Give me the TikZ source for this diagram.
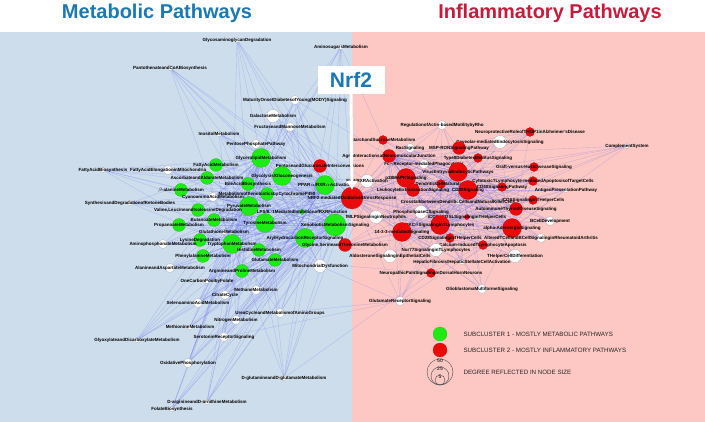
\documentclass[tikz,border=0pt]{standalone}
\usepackage{fontspec}
\setmainfont{Liberation Sans}
\usetikzlibrary{backgrounds,arrows.meta}
\definecolor{metablue}{RGB}{205,221,236}
\definecolor{inflpink}{RGB}{253,200,195}
\definecolor{titleblue}{RGB}{28,120,178}
\definecolor{titlered}{RGB}{196,28,60}
\definecolor{ngreen}{RGB}{30,235,20}
\definecolor{nred}{RGB}{235,10,10}
\definecolor{edgeblue}{RGB}{110,120,240}

\begin{document}
\begin{tikzpicture}[x=1pt,y=-1pt,
    pnode/.style={circle,draw=gray!70,line width=0.2pt,inner sep=0pt},
    gn/.style={pnode,fill=ngreen,draw=ngreen!80!black},
    rn/.style={pnode,fill=nred,draw=nred!80!black},
    wn/.style={pnode,fill=white},
    sa/.style={minimum size=5pt},
    sb/.style={minimum size=9pt},
    sc/.style={minimum size=13pt},
    sd/.style={minimum size=19pt},
    lbl/.style={font=\fontsize{4.5}{4.5}\selectfont\bfseries,inner sep=0pt,text=black},
    edge/.style={draw=edgeblue,opacity=0.35,line width=0.35pt},
    legtext/.style={font=\fontsize{6.2}{7}\selectfont,anchor=west,text=black!85}]
\useasboundingbox (0,0) rectangle (705,422);

% titles
\node[font=\fontsize{20}{22}\selectfont\bfseries,text=titleblue] (ttlmeta) at (157,13) {Metabolic Pathways};
\node[font=\fontsize{20}{22}\selectfont\bfseries,text=titlered] (ttlinfl) at (550,13) {Inflammatory Pathways};

% metabolic side
\node[wn,sa,label={[lbl]center:GlycosaminoglycanDegradation}] (gagd) at (237,40) {};
\node[wn,sa,label={[lbl]center:AminosugarsMetabolism}] (amsu) at (341,47) {};
\node[wn,sa,label={[lbl]center:PantothenateandCoABiosynthesis}] (pant) at (170,68) {};
\node[wn,sb,label={[lbl]center:MaturityOnsetDiabetesofYoung(MODY)Signaling}] (mody) at (295,100) {};
\node[wn,sc,label={[lbl]center:GalactoseMetabolism}] (gala) at (273,116) {};
\node[wn,sb,label={[lbl]center:FructoseandMannoseMetabolism}] (fruc) at (290,127) {};
\node[wn,sa,label={[lbl]center:InositolMetabolism}] (inos) at (219,134) {};
\node[wn,sb,label={[lbl]center:PentosePhosphatePathway}] (ppp) at (256,144) {};
\node[gn,sd,label={[lbl]center:GlycerolipidMetabolism}] (glyc) at (261,158) {};
\node[gn,sc,label={[lbl]center:FattyAcidMetabolism}] (fam) at (216,165) {};
\node[rn,sc,label={[lbl]center:PentoseandGlucuronateInterconversions}] (pgi) at (320,166) {};
\node[wn,sa,label={[lbl]center:FattyAcidBiosynthesis}] (fab) at (103,170) {};
\node[wn,sb,label={[lbl]center:FattyAcidElongationinMitochondria}] (fae) at (168,170) {};
\node[gn,sc,label={[lbl]center:AscorbateandAldarateMetabolism}] (asc) at (207,178) {};
\node[gn,sd,label={[lbl]center:Glycolysis/Gluconeogenesis}] (glgn) at (282,176) {};
\node[gn,sd,label={[lbl]center:PPAR$\alpha$/RXR$\alpha$Activation}] (ppar) at (325,185) {};
\node[gn,sc,label={[lbl]center:BileAcidBiosynthesis}] (bile) at (248,184) {};
\node[gn,sc,label={[lbl]center:$\beta$-alanineMetabolism}] (bala) at (181,190) {};
\node[gn,sc,label={[lbl]center:MetabolismofXenobioticsbyCytochromeP450}] (mxc) at (267,194) {};
\node[wn,sb,label={[lbl]center:CyanoaminoAcidMetabolism}] (cyan) at (213,197) {};
\node[wn,sa,label={[lbl]center:SynthesisandDegradationofKetoneBodies}] (keto) at (130,203) {};
\node[gn,sd,label={[lbl]center:PyruvateMetabolism}] (pyr) at (249,206) {};
\node[gn,sc,label={[lbl]center:Valine,LeucineandIsoleucineDegradation}] (vli) at (198,210) {};
\node[gn,sa,label={[lbl]center:LPS/IL-1MediatedInhibitionofRXRFunction}] (lps) at (302,212) {};
\node[gn,sc,label={[lbl]center:ButanoateMetabolism}] (buta) at (214,220) {};
\node[gn,sc,label={[lbl]center:PropanoateMetabolism}] (prop) at (179,225) {};
\node[gn,sd,label={[lbl]center:TyrosineMetabolism}] (tyr) at (265,223) {};
\node[gn,sd,minimum size=22pt,label={[lbl]center:XenobioticMetabolismSignaling}] (xeno) at (335,225) {};
\node[wn,sa,label={[lbl]center:GlutathioneMetabolism}] (glut) at (224,232) {};
\node[gn,sc,label={[lbl]center:LysineDegradation}] (lys) at (200,240) {};
\node[gn,sd,label={[lbl]center:TryptophanMetabolism}] (tryp) at (232,244) {};
\node[gn,sd,label={[lbl]center:ArylHydrocarbonReceptorSignaling}] (ahr) at (305,238) {};
\node[wn,sb,label={[lbl]center:AminophosphonateMetabolism}] (amph) at (163,244) {};
\node[gn,sc,label={[lbl]center:HistidineMetabolism}] (his) at (259,250) {};
\node[gn,sc,label={[lbl]center:PhenylalanineMetabolism}] (phe) at (203,256) {};
\node[gn,sc,label={[lbl]center:GlutamateMetabolism}] (glm) at (275,260) {};
\node[wn,sb,label={[lbl]center:AlanineandAspartateMetabolism}] (ala) at (170,268) {};
\node[gn,sc,label={[lbl]center:ArginineandProlineMetabolism}] (arg) at (242,271) {};
\node[wn,sc,label={[lbl]center:MitochondrialDysfunction}] (mito) at (320,266) {};
\node[wn,sa,label={[lbl]center:OneCarbonPoolbyFolate}] (ocp) at (207,281) {};
\node[wn,sb,label={[lbl]center:MethaneMetabolism}] (meth) at (256,290) {};
\node[wn,sb,label={[lbl]center:CitrateCycle}] (tca) at (225,295) {};
\node[wn,sb,label={[lbl]center:SelenoaminoAcidMetabolism}] (sel) at (198,303) {};
\node[wn,sb,label={[lbl]center:UreaCycleandMetabolismofAminoGroups}] (urea) at (280,313) {};
\node[wn,sb,label={[lbl]center:NitrogenMetabolism}] (nitr) at (236,320) {};
\node[wn,sa,label={[lbl]center:MethionineMetabolism}] (met) at (190,327) {};
\node[wn,sb,label={[lbl]center:SerotoninReceptorSignaling}] (sero) at (224,337) {};
\node[wn,sa,label={[lbl]center:GlyoxylateandDicarboxylateMetabolism}] (glyo) at (137,340) {};
\node[wn,sb,label={[lbl]center:OxidativePhosphorylation}] (oxp) at (188,363) {};
\node[wn,sa,label={[lbl]center:D-glutamineandD-glutamateMetabolism}] (dglu) at (284,378) {};
\node[wn,sa,label={[lbl]center:D-arginineandD-ornithineMetabolism}] (darg) at (207,402) {};
\node[wn,sa,label={[lbl]center:FolateBiosynthesis}] (fol) at (172,409) {};

% inflammatory side
\node[wn,sb,label={[lbl]center:RegulationofActin-basedMotilitybyRho}] (rho) at (442,125) {};
\node[rn,sb,label={[lbl]center:NeuroprotectiveRoleofTHOP1inAlzheimer'sDisease}] (thop) at (530,132) {};
\node[rn,sb,label={[lbl]center:StarchandSucroseMetabolism}] (star) at (383,140) {};
\node[wn,sb,label={[lbl]center:RacSignaling}] (rac) at (410,148) {};
\node[wn,sc,label={[lbl]center:Caveolar-mediatedEndocytosisSignaling}] (cav) at (500,142) {};
\node[rn,sc,label={[lbl]center:MSP-RONSignalingPathway}] (msp) at (459,148) {};
\node[wn,sa,label={[lbl]center:ComplementSystem}] (comp) at (627,146) {};
\node[rn,sc,label={[lbl]center:AgrinInteractionsatNeuromuscularJunction}] (agr) at (389,156) {};
\node[rn,sb,label={[lbl]center:TypeIIDiabetesMellitusSignaling}] (t2d) at (478,158) {};
\node[wn,sb,label={[lbl]center:Fc$\gamma$Receptor-mediatedPhagocytosis}] (fcg) at (424,164) {};
\node[rn,sb,label={[lbl]center:Graft-versus-HostDiseaseSignaling}] (gvh) at (534,167) {};
\node[rn,sd,label={[lbl]center:VirusEntryviaEndocyticPathways}] (vir) at (458,172) {};
\node[wn,sc,label={[lbl]center:FXR/RXRActivation}] (fxr) at (367,181) {};
\node[rn,sd,label={[lbl]center:p38MAPKSignaling}] (p38) at (406,178) {};
\node[rn,sb,label={[lbl]center:DendriticCellMaturation}] (dcm) at (441,184) {};
\node[rn,sb,label={[lbl]center:CytotoxicTLymphocyte-mediatedApoptosisofTargetCells}] (ctl) at (533,181) {};
\node[rn,sc,label={[lbl]center:LeukocyteExtravasationSignaling}] (leuk) at (413,190) {};
\node[rn,sb,label={[lbl]center:CD40SignalingPathway}] (cd40) at (502,187) {};
\node[rn,sd,label={[lbl]center:CD28Signaling}] (cd28) at (468,190) {};
\node[wn,sa,label={[lbl]center:AntigenPresentationPathway}] (agp) at (566,190) {};
\node[rn,sd,minimum size=22pt,label={[lbl]center:NRF2-mediatedOxidativeStressResponse}] (nrf) at (352,198) {};
\node[wn,sa,label={[lbl]center:CrosstalkbetweenDendriticCellsandNaturalKillerCells}] (ddnk) at (458,202) {};
\node[rn,sb,label={[lbl]center:iCOSSignalinginTHelperCells}] (icos2) at (533,200) {};
\node[rn,sc,label={[lbl]center:AutoimmuneThyroidDiseaseSignaling}] (auto) at (516,209) {};
\node[wn,sc,label={[lbl]center:PhospholipaseCSignaling}] (plc) at (421,212) {};
\node[rn,sa,label={[lbl]center:iCOS-iCOSLSignalinginTHelperCells}] (icos) at (467,217) {};
\node[wn,sb,label={[lbl]center:BCellDevelopment}] (bcd) at (550,221) {};
\node[wn,sc,label={[lbl]center:fMLPSignalinginNeutrophils}] (fmlp) at (376,217) {};
\node[rn,sd,label={[lbl]center:PKC$\theta$SignalinginTLymphocytes}] (pkc) at (440,225) {};
\node[rn,sd,label={[lbl]center:alpha-AdrenergicSignaling}] (alad) at (512,228) {};
\node[wn,sb,label={[lbl]center:AlteredTCellandBCellSignalinginRheumatoidArthritis}] (ra) at (541,238) {};
\node[rn,sd,label={[lbl]center:14-3-3-mediatedSignaling}] (y1433) at (402,232) {};
\node[rn,sb,label={[lbl]center:CD28SignalinginTHelperCells}] (cd28t) at (450,238) {};
\node[rn,sb,label={[lbl]center:Calcium-inducedTLymphocyteApoptosis}] (calc) at (483,245) {};
\node[rn,sc,label={[lbl]center:Glycine,SerineandThreonineMetabolism}] (gst) at (345,245) {};
\node[wn,sc,label={[lbl]center:Nur77SignalinginTLymphocytes}] (nur) at (436,250) {};
\node[wn,sc,label={[lbl]center:AldosteroneSignalinginEpithelialCells}] (ald) at (390,256) {};
\node[wn,sc,label={[lbl]center:THelperCellDifferentiation}] (thd) at (515,256) {};
\node[wn,sa,label={[lbl]center:HepaticFibrosis/HepaticStellateCellActivation}] (hep) at (462,262) {};
\node[rn,sb,label={[lbl]center:NeuropathicPainSignalingInDorsalHornNeurons}] (neur) at (431,273) {};
\node[wn,sb,label={[lbl]center:GlioblastomaMultiformeSignaling}] (glio) at (482,289) {};
\node[wn,sb,label={[lbl]center:GlutamateReceptorSignaling}] (glur) at (400,301) {};

% Nrf2 callout
\node[fill=white,minimum width=67pt,minimum height=28pt,font=\fontsize{21}{22}\selectfont\bfseries,text=titleblue] (nrftag) at (351,80) {Nrf2};
\coordinate (nrfhead) at (352,190);
\draw[white,line width=3pt,-{Latex[length=9pt,width=13pt]}] (nrftag.south) -- (nrfhead);

% legend
\node[gn,minimum size=14pt] (lg1) at (440,334) {};
\node[legtext] (lt1) at (460,334) {SUBCLUSTER 1 - MOSTLY METABOLIC PATHWAYS};
\node[rn,minimum size=14pt] (lg2) at (440,350) {};
\node[legtext] (lt2) at (460,350) {SUBCLUSTER 2 - MOSTLY INFLAMMATORY PATHWAYS};
\node[circle,draw=black!70,line width=0.4pt,minimum size=26pt,inner sep=0pt] (lg50) at (440,372) {};
\node[circle,draw=black!70,line width=0.4pt,minimum size=18pt,inner sep=0pt,anchor=south] (lg25) at (lg50.south) {};
\node[circle,draw=black!70,line width=0.4pt,minimum size=10pt,inner sep=0pt,anchor=south] (lg5) at (lg50.south) {};
\node[font=\fontsize{5}{5}\selectfont,inner sep=0pt,below=0.5pt] at (lg50.north) {50};
\node[font=\fontsize{5}{5}\selectfont,inner sep=0pt,below=0.5pt] at (lg25.north) {25};
\node[font=\fontsize{5}{5}\selectfont,inner sep=0pt,below=0.5pt] at (lg5.north) {5};
\node[legtext] (lt3) at (460,372) {DEGREE REFLECTED IN NODE SIZE};

\begin{pgfonlayer}{background}
  \fill[metablue] (0,32) rectangle (352,422);
  \fill[inflpink] (352,32) rectangle (705,422);
  % metabolic cluster
  \foreach \a in {gagd,amsu,pant,mody,gala,fruc,inos,ppp,glyc,fam,pgi,fab,fae,asc,glgn,bile,bala,mxc,cyan,keto,vli,lps,buta,prop,tyr,glut,lys,tryp,amph,his,phe,glm,ala,arg,mito,ocp,meth,tca,sel,urea,nitr,met,sero,glyo,oxp,dglu,darg,fol}
    \foreach \b in {glyc,pyr,xeno,ahr,nrf,tryp,ppar}
      \draw[edge] (\a) -- (\b);
  % inflammatory cluster
  \foreach \a in {rho,thop,star,rac,cav,msp,comp,agr,t2d,fcg,gvh,vir,fxr,p38,dcm,ctl,leuk,cd40,cd28,agp,ddnk,icos2,auto,plc,icos,bcd,fmlp,alad,ra,y1433,cd28t,calc,gst,nur,ald,thd,hep,neur,glio,glur}
    \foreach \b in {nrf,vir,cd28,pkc,alad,y1433,agr}
      \draw[edge] (\a) -- (\b);
  % cross links
  \foreach \a/\b in {mody/agr,amsu/star,gala/fxr,glgn/fxr,ppar/fmlp,xeno/gst,ahr/ald,mito/glur,urea/glur,dglu/neur,glm/neur,pgi/agr,lps/fmlp,sero/glur,ppar/leuk}
    \draw[edge] (\a) -- (\b);
\end{pgfonlayer}
\end{tikzpicture}
\end{document}
